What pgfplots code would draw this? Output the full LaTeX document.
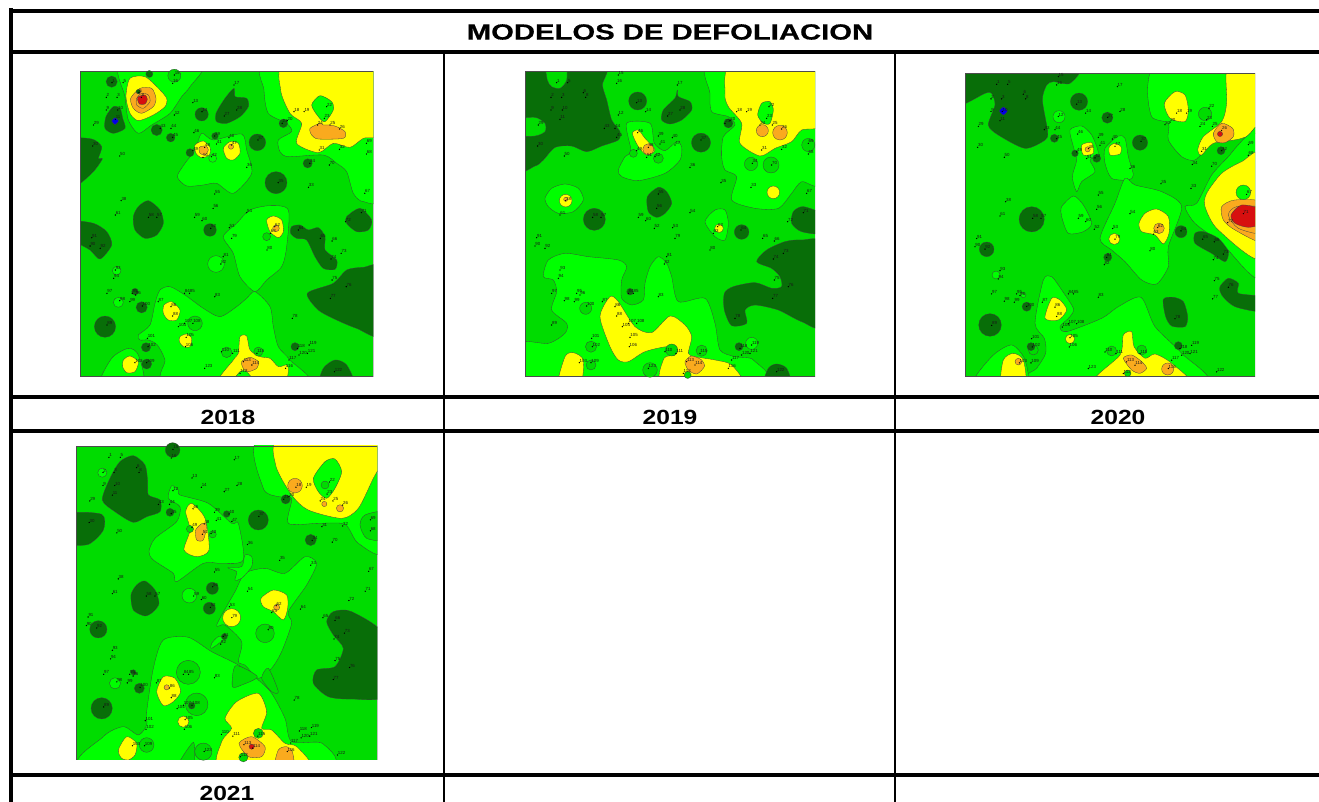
\documentclass[border=0pt]{standalone}
\usepackage{pgfplots}
\usepackage{pgfplotstable}
\usepackage{fontspec}
\setmainfont{Liberation Sans}
\newfontfamily\hv[FakeBold=0.5]{Liberation Sans Bold}
\pgfplotsset{compat=1.18}
\definecolor{br}{RGB}{0,255,0}
\definecolor{md}{RGB}{0,220,0}
\definecolor{dk}{RGB}{8,110,8}
\definecolor{ye}{RGB}{255,255,0}
\definecolor{og}{RGB}{250,170,30}
\definecolor{rd}{RGB}{215,15,15}
\definecolor{bl}{RGB}{0,0,230}
\newcommand{\Pl}[2]{\addplot[fill=#1,draw=black!75,line width=.3pt,line join=round,smooth cycle,tension=0.45] coordinates {#2};}
\newcommand{\Rc}[1]{\addplot[fill=md,draw=none] coordinates {#1} --cycle;}
\newcommand{\Fr}[1]{\addplot[draw=black!70,line width=.8pt] coordinates {#1} --cycle;}
\newcommand{\B}[3]{\addplot[only marks,mark=*,mark size=#2pt,mark options={fill=#1,draw=black!75,line width=.3pt}] coordinates {#3};}
\newcommand{\Pts}[4]{\addplot[only marks,mark=*,mark size=.4pt,black,point meta=explicit symbolic,clip=false,
  nodes near coords,nodes near coords style={font=\fontsize{4.4}{5}\selectfont,text=black!90,anchor=south west,inner sep=.2pt}]
  table[x expr={#2+(\thisrow{x}-30)*#1},y expr={#4+(\thisrow{y}-35)*#3},meta=id] {\ptstab};}
\pgfplotstableread{
x y id
125 68 1
158 68 5
108 112 2
140 112 3
205 98 6
212 112 8
108 150 9
142 150 10
135 178 11
310 165 12
365 128 13
392 155 14
310 45 15
305 70 16
487 75 17
665 155 18
695 155 19
645 182 20
630 190 21
762 140 22
755 175 23
735 195 24
772 195 25
800 207 26
458 168 27
495 150 28
70 195 29
68 258 30
740 270 31
800 268 32
708 382 33
712 310 34
618 368 35
525 322 36
558 240 37
152 422 38
430 228 39
472 233 40
435 252 41
420 290 42
268 205 43
300 205 44
305 232 45
368 218 46
480 255 47
400 262 48
365 272 49
148 288 50
395 292 51
418 505 52
473 503 53
525 458 54
430 402 55
425 445 56
258 472 57
233 472 58
370 472 59
392 482 60
135 465 61
608 500 62
595 520 63
678 510 64
743 535 65
778 543 66
875 400 67
880 282 68
880 250 69
770 315 70
865 458 71
818 485 72
805 580 73
775 597 74
778 660 75
820 680 76
773 715 77
660 775 78
480 535 79
585 570 80
455 590 81
448 612 82
430 710 83
340 700 84
355 700 85
300 740 86
262 725 87
305 768 88
110 795 89
60 558 90
65 533 91
90 565 92
135 630 93
130 655 94
185 700 95
195 705 96
110 700 97
148 722 98
178 725 99
215 738 100
230 835 101
232 860 102
193 908 103
322 800 104
345 832 105
343 860 106
340 790 107
365 790 108
228 908 109
450 875 110
483 880 111
505 940 112
515 905 113
540 915 114
555 880 115
640 925 116
650 900 117
675 865 118
710 855 119
680 885 120
705 880 121
785 935 122
400 925 123
}\ptstab
\pgfplotsset{panel/.style={anchor=north west,hide axis,x=0.33333pt,y=0.33333pt,y dir=reverse}}
\begin{document}
\begin{tikzpicture}
\path[use as bounding box] (0,0) rectangle (1319pt,802pt);
%% table frame
\begin{axis}[at={(0pt,0pt)},anchor=south west,hide axis,x=1pt,y=1pt,y dir=reverse,xmin=0,xmax=1319,ymin=0,ymax=802]
\addplot[black,line width=4pt] coordinates {(9,11)(1319,11)};
\addplot[black,line width=4pt] coordinates {(9,52)(1319,52)};
\addplot[black,line width=4pt] coordinates {(9,397)(1319,397)};
\addplot[black,line width=4pt] coordinates {(9,431)(1319,431)};
\addplot[black,line width=4pt] coordinates {(9,775)(1319,775)};
\addplot[black,line width=4pt] coordinates {(11,8)(11,802)};
\addplot[black,line width=2pt] coordinates {(444,52)(444,802)};
\addplot[black,line width=2pt] coordinates {(895,52)(895,802)};
\node[font=\fontsize{22}{24}\selectfont\hv] at (axis cs:670,32) {\scalebox{1.33}[1]{MODELOS DE DEFOLIACION}};
\node[font=\fontsize{20.5}{24}\selectfont\bfseries] at (axis cs:228,417) {\scalebox{1.2}[1]{2018}};
\node[font=\fontsize{20.5}{24}\selectfont\bfseries] at (axis cs:670,417) {\scalebox{1.2}[1]{2019}};
\node[font=\fontsize{20.5}{24}\selectfont\bfseries] at (axis cs:1118,417) {\scalebox{1.2}[1]{2020}};
\node[font=\fontsize{20.5}{24}\selectfont\bfseries] at (axis cs:227,793) {\scalebox{1.2}[1]{2021}};
\end{axis}

%% 2018
\begin{axis}[panel,at={(80pt,730.33pt)},xmin=30,xmax=910,ymin=35,ymax=950]
\Rc{(30,35)(910,35)(910,950)(30,950)}
\Pl{br}{(153,10)(165,110)(175,180)(205,220)(245,195)(300,160)(335,110)(360,80)(395,10)}
\Pl{br}{(590,10)(582,90)(595,160)(650,190)(665,215)(625,240)(630,275)(655,290)(760,285)(800,310)(830,335)(850,400)(880,425)(935,400)(935,10)}
\Pl{br}{(395,220)(430,240)(515,222)(530,270)(545,340)(490,400)(440,370)(400,375)(350,378)(322,350)(345,310)(375,270)}
\Pl{br}{(460,530)(500,490)(540,450)(600,437)(655,450)(650,560)(635,620)(590,660)(555,695)(510,650)(490,580)}
\Pl{br}{(205,825)(240,795)(255,730)(270,690)(300,680)(345,705)(400,745)(450,770)(500,740)(530,715)(555,695)(600,740)(610,800)(625,860)(660,900)(710,975)(295,975)(285,900)(262,855)(235,840)(210,840)}
\Pl{br}{(92,975)(125,895)(175,865)(205,885)(218,975)}
\B{br}{8.3}{(438,612)}
\B{br}{4.3}{(140,632)}
\B{br}{5}{(145,727)}
\B{md}{6.5}{(313,47)}
\B{md}{4}{(590,530)}
\B{md}{7.3}{(375,790)}
\B{md}{5.3}{(470,877)}
\B{md}{4.6}{(565,875)}
\Pl{dk}{(130,140)(150,145)(158,175)(165,205)(130,220)(105,205)(108,170)}
\Pl{dk}{(492,85)(495,110)(530,115)(535,140)(510,170)(470,190)(440,185)(438,160)(465,115)}
\Pl{dk}{(5,245)(65,237)(95,260)(85,295)(97,297)(65,340)(5,380)}
\Pl{dk}{(235,422)(270,450)(280,490)(260,525)(225,535)(195,510)(190,470)(205,440)}
\Pl{dk}{(5,485)(70,490)(110,515)(125,555)(90,597)(60,570)(5,535)}
\Pl{dk}{(665,500)(690,495)(715,510)(745,503)(765,530)(765,570)(800,600)(795,628)(760,625)(735,590)(710,540)(680,535)(662,520)}
\Pl{dk}{(830,470)(870,445)(905,480)(895,510)(860,515)(830,490)}
\Pl{dk}{(712,700)(790,670)(830,630)(880,622)(935,625)(935,825)(860,805)(800,780)(745,750)}
\Pl{dk}{(752,975)(760,925)(795,900)(830,915)(850,975)}
\B{dk}{5.6}{(125,65)}
\B{dk}{6.6}{(395,163)}
\B{dk}{5.6}{(260,210)}
\B{dk}{4.3}{(302,233)}
\B{dk}{3.3}{(435,228)}
\B{dk}{8.3}{(562,247)}
\B{dk}{4}{(360,278)}
\B{dk}{4.3}{(640,190)}
\B{dk}{4.6}{(713,310)}
\B{dk}{11}{(618,368)}
\B{dk}{6.3}{(420,510)}
\B{dk}{10.6}{(105,800)}
\B{dk}{5.6}{(215,742)}
\B{dk}{4.6}{(228,862)}
\B{dk}{5}{(230,912)}
\B{dk}{3.3}{(195,695)}
\B{dk}{4}{(675,860)}
\B{dk}{3.5}{(238,42)}
\Pl{ye}{(180,55)(225,50)(265,85)(290,115)(285,140)(250,165)(205,182)(180,160)(168,110)}
\Pl{og}{(182,115)(210,85)(245,85)(258,115)(250,140)(215,160)(190,145)}
\Pl{og}{(200,115)(215,100)(235,105)(240,125)(220,145)(200,135)}
\Pl{rd}{(203,112)(225,105)(232,118)(225,132)(208,132)}
\B{dk}{2.2}{(205,95)}
\Pl{ye}{(650,10)(632,90)(660,160)(695,190)(680,250)(745,278)(790,250)(840,262)(880,235)(935,215)(935,10)}
\Pl{br}{(725,135)(750,107)(785,125)(790,150)(765,185)(745,170)}
\Pl{og}{(720,205)(750,190)(760,195)(780,195)(800,200)(825,215)(820,235)(745,237)(725,225)}
\Pl{ye}{(375,255)(400,243)(420,262)(418,285)(395,293)(378,280)}
\Pl{og}{(388,262)(408,258)(415,270)(405,285)(390,280)}
\Pl{ye}{(460,265)(480,245)(505,250)(510,280)(490,300)(470,295)}
\B{og}{2.6}{(483,260)}
\B{br}{4}{(428,295)}
\Pl{ye}{(590,480)(610,468)(635,480)(640,515)(625,533)(600,515)}
\B{og}{3.3}{(618,505)}
\Pl{ye}{(160,900)(180,888)(205,905)(195,935)(170,938)(158,920)}
\Pl{ye}{(282,735)(305,725)(330,750)(320,780)(295,780)(280,760)}
\Pl{ye}{(330,830)(350,822)(365,835)(360,860)(340,860)(328,845)}
\Pl{ye}{(445,975)(490,900)(505,880)(510,830)(530,828)(540,870)(570,890)(600,895)(625,920)(650,915)(655,935)(630,975)}
\Pl{og}{(515,905)(540,892)(565,905)(560,925)(535,935)(520,925)}
\Pl{br}{(485,975)(510,935)(530,935)(555,975)}
\Pl{bl}{(125,183)(135,173)(146,183)(135,194)}
\Fr{(30,35)(910,35)(910,950)(30,950)}
\Pts{1.011}{30}{1}{35}
\end{axis}

%% 2019
\begin{axis}[panel,at={(525pt,730.33pt)},xmin=30,xmax=900,ymin=35,ymax=950]
\Rc{(30,35)(900,35)(900,950)(30,950)}
\Pl{dk}{(5,10)(265,10)(262,75)(275,120)(290,180)(315,215)(310,240)(260,258)(215,275)(170,258)(120,262)(85,300)(60,318)(5,318)}
\Pl{md}{(95,10)(150,10)(155,60)(135,85)(110,80)(97,60)}
\Pl{md}{(5,180)(60,172)(90,190)(90,215)(60,228)(5,225)}
\Pl{br}{(588,10)(585,100)(590,155)(640,170)(660,195)(625,230)(620,290)(630,330)(665,350)(650,420)(720,445)(790,445)(830,400)(860,365)(925,360)(925,10)}
\Pl{br}{(335,190)(405,190)(418,250)(450,272)(485,245)(500,260)(495,300)(450,340)(370,362)(320,350)(310,330)(330,290)(348,272)}
\Pl{br}{(90,415)(110,385)(150,372)(190,385)(205,420)(175,455)(130,460)(100,440)}
\Pl{br}{(570,485)(600,450)(630,450)(640,490)(630,540)(600,530)}
\Pl{br}{(85,650)(100,600)(150,580)(220,590)(310,600)(335,620)(320,660)(320,715)(350,735)(385,720)(390,670)(405,620)(430,590)(455,610)(470,650)(490,725)(570,715)(600,790)(615,870)(660,890)(715,900)(725,975)(5,975)(5,850)(100,850)(150,820)(155,790)(110,750)(125,695)(115,660)}
\B{md}{6.6}{(708,312)}
\B{md}{8}{(768,315)}
\B{md}{6.6}{(880,255)}
\B{md}{5}{(430,295)}
\B{md}{4}{(355,280)}
\B{md}{5.6}{(228,860)}
\B{md}{5}{(228,915)}
\B{md}{6}{(212,745)}
\B{md}{7.3}{(405,930)}
\B{md}{6}{(470,870)}
\B{md}{5.6}{(560,872)}
\B{br}{6}{(710,850)}
\B{md}{3.5}{(518,945)}
\Pl{dk}{(487,90)(490,110)(525,125)(530,150)(500,180)(465,192)(440,180)(445,150)(480,115)}
\Pl{dk}{(430,382)(455,395)(470,430)(450,460)(425,472)(400,455)(397,410)}
\Pl{dk}{(865,440)(925,465)(925,520)(860,515)(830,490)(835,455)}
\Pl{dk}{(725,605)(755,570)(810,545)(860,540)(925,555)(925,795)(860,785)(790,750)(720,735)(690,750)(695,790)(650,797)(628,750)(628,700)(655,680)(720,668)(770,685)(800,680)(795,650)(770,625)}
\Pl{dk}{(748,975)(760,925)(785,912)(815,925)(826,975)}
\B{dk}{9}{(368,123)}
\B{dk}{9.5}{(558,248)}
\B{dk}{11}{(238,478)}
\B{dk}{7.3}{(680,516)}
\B{dk}{4.6}{(640,190)}
\B{dk}{4}{(672,860)}
\B{dk}{3.3}{(345,695)}
\Pl{ye}{(655,10)(630,100)(640,140)(680,190)(675,250)(735,288)(780,265)(830,245)(860,210)(925,190)(925,10)}
\Pl{br}{(728,165)(740,130)(765,125)(775,150)(765,190)(745,190)}
\B{og}{6}{(742,212)}
\B{og}{7.3}{(795,218)}
\B{ye}{6.3}{(775,397)}
\Pl{ye}{(352,220)(370,210)(390,235)(420,270)(395,285)(370,260)}
\B{og}{5.6}{(400,268)}
\B{ye}{6.3}{(152,422)}
\B{og}{2}{(152,418)}
\B{ye}{4.3}{(612,505)}
\Pl{ye}{(285,710)(310,725)(360,800)(410,818)(465,768)(510,795)(530,830)(520,880)(540,890)(600,900)(650,915)(675,975)(445,975)(447,895)(480,885)(460,860)(390,875)(340,905)(310,900)(285,860)(255,770)}
\Pl{ye}{(130,975)(150,890)(175,878)(205,900)(195,975)}
\Pl{og}{(510,905)(530,888)(560,900)(568,920)(545,942)(520,930)}
\Fr{(30,35)(900,35)(900,950)(30,950)}
\Pts{1}{30}{1}{35}
\end{axis}

%% 2020
\begin{axis}[panel,at={(965pt,728.67pt)},xmin=30,xmax=900,ymin=40,ymax=950]
\Rc{(30,40)(900,40)(900,950)(30,950)}
\Pl{dk}{(5,15)(360,15)(345,70)(295,65)(275,75)(262,120)(278,215)(270,240)(210,265)(130,225)(100,195)(120,135)(110,100)(90,100)(5,135)}
\Pl{br}{(610,15)(578,80)(590,170)(640,190)(640,240)(680,290)(720,300)(760,255)(735,250)(760,220)(815,180)(820,15)}
\Pl{ye}{(820,15)(925,15)(925,195)(860,235)(775,250)(740,285)(728,270)(745,230)(800,185)(815,130)}
\Pl{br}{(925,215)(880,225)(845,260)(820,290)(770,345)(725,430)(690,440)(720,490)(800,550)(925,650)}
\Pl{ye}{(925,285)(860,305)(800,340)(755,400)(750,440)(790,510)(925,595)}
\Pl{og}{(800,440)(840,420)(925,430)(925,545)(840,510)(805,480)}
\Pl{og}{(820,465)(845,440)(925,445)(925,520)(850,505)}
\Pl{rd}{(828,465)(860,435)(925,450)(925,490)(880,502)(840,490)}
\B{br}{7.3}{(865,397)}
\B{md}{6.6}{(750,162)}
\Pl{og}{(775,220)(800,190)(833,205)(835,230)(810,248)(785,245)}
\B{rd}{2.6}{(795,222)}
\B{dk}{4}{(798,272)}
\Pl{ye}{(628,130)(660,95)(690,105)(700,150)(690,185)(645,175)}
\Pl{br}{(345,210)(380,198)(410,225)(430,280)(405,300)(420,335)(380,365)(365,395)(352,350)(365,300)(355,260)}
\Pl{ye}{(380,255)(410,248)(415,280)(385,285)}
\B{og}{2.6}{(398,268)}
\Pl{br}{(450,265)(490,228)(510,235)(520,290)(535,345)(520,360)(470,355)(450,310)}
\Pl{ye}{(463,260)(480,250)(498,260)(495,282)(465,285)}
\Pl{br}{(320,440)(355,408)(385,435)(410,490)(385,515)(340,520)(320,470)}
\Pl{br}{(435,535)(480,430)(510,355)(540,375)(620,395)(680,440)(640,560)(640,620)(605,672)(560,660)(510,605)(470,570)}
\Pl{ye}{(552,490)(570,460)(605,447)(640,470)(642,520)(625,552)(600,525)(560,515)}
\B{og}{5.3}{(612,505)}
\B{ye}{5.6}{(478,537)}
\Pl{br}{(240,790)(265,660)(290,650)(320,690)(355,745)(345,770)(315,800)(335,815)(440,775)(490,740)(558,712)(600,800)(680,880)(745,975)(205,975)(245,925)(272,880)(268,835)}
\Pl{br}{(55,975)(110,890)(170,855)(210,900)(210,975)}
\Pl{ye}{(140,975)(145,900)(175,880)(205,900)(210,975)}
\B{og}{3.3}{(190,905)}
\Pl{ye}{(270,775)(290,715)(315,720)(335,750)(310,780)}
\B{ye}{4.6}{(345,837)}
\Pl{ye}{(415,975)(495,885)(505,825)(530,815)(537,860)(570,895)(600,882)(650,910)(700,975)}
\Pl{og}{(505,895)(530,885)(560,905)(575,925)(555,940)(530,930)}
\B{og}{6}{(638,927)}
\B{md}{5}{(470,873)}
\B{md}{5}{(560,870)}
\B{md}{3.3}{(518,940)}
\B{md}{5}{(235,870)}
\B{br}{4}{(123,645)}
\B{br}{2.6}{(205,705)}
\B{br}{6}{(312,170)}
\Pl{dk}{(625,718)(655,712)(685,725)(698,770)(690,800)(650,798)(632,770)}
\Pl{dk}{(720,520)(745,515)(790,535)(820,575)(810,605)(770,580)(720,550)}
\Pl{dk}{(795,680)(820,655)(850,670)(850,700)(925,712)(925,755)(840,740)(800,705)}
\B{dk}{8.6}{(372,125)}
\B{dk}{5.6}{(457,173)}
\B{dk}{7.6}{(555,248)}
\B{dk}{4}{(298,235)}
\B{dk}{3.3}{(360,280)}
\B{dk}{4}{(425,295)}
\B{dk}{12.6}{(230,478)}
\B{dk}{7.3}{(95,568)}
\B{dk}{11.3}{(105,795)}
\B{dk}{4.6}{(215,740)}
\B{dk}{4}{(228,860)}
\B{dk}{6}{(678,515)}
\B{dk}{4}{(458,592)}
\B{dk}{4}{(670,857)}
\Pl{bl}{(133,153)(145,141)(157,153)(145,165)}
\Fr{(30,40)(900,40)(900,950)(30,950)}
\Pts{1}{30}{0.995}{40}
\end{axis}

%% 2021
\begin{axis}[panel,at={(76pt,356pt)},xmin=33,xmax=937,ymin=33,ymax=975]
\Rc{(33,33)(937,33)(937,975)(33,975)}
\Pl{br}{(585,8)(595,160)(640,185)(680,190)(670,265)(760,265)(840,268)(880,325)(962,345)(962,8)}
\Pl{br}{(252,350)(270,310)(335,260)(345,215)(310,190)(320,152)(340,165)(345,180)(430,205)(500,265)(520,265)(535,375)(470,385)(415,385)(335,440)(325,415)(265,375)}
\Pl{br}{(455,570)(510,470)(540,415)(600,400)(660,415)(720,365)(755,385)(725,450)(670,530)(680,565)(650,650)(620,700)(580,730)(540,690)(520,680)(530,620)(480,570)}
\Pl{br}{(488,398)(530,395)(540,360)(560,365)(560,395)(530,430)(510,435)(515,410)}
\Pl{br}{(440,625)(460,605)(480,610)(440,640)}
\Pl{br}{(65,1000)(115,905)(175,875)(220,900)(245,870)(245,830)(265,700)(295,615)(370,607)(440,650)(520,690)(580,735)(620,775)(660,850)(680,920)(772,925)(772,1000)}
\Pl{md}{(502,755)(512,692)(577,725)(530,750)}
\Pl{md}{(590,730)(610,700)(640,770)(620,770)}
\Pl{md}{(335,1000)(385,922)(385,1000)}
\Pl{md}{(962,232)(900,240)(885,270)(905,310)(962,312)}
\B{md}{7.3}{(245,930)}
\B{md}{12}{(370,712)}
\B{md}{11.3}{(395,808)}
\B{md}{8.6}{(415,950)}
\B{md}{4.6}{(535,967)}
\B{md}{9.3}{(600,595)}
\B{md}{3.6}{(375,282)}
\B{md}{3.6}{(443,298)}
\Pl{ye}{(650,8)(632,90)(680,180)(730,225)(830,250)(880,220)(925,130)(962,60)(962,8)}
\Pl{br}{(745,130)(780,80)(810,72)(830,110)(810,160)(785,190)(760,170)}
\B{md}{4}{(780,150)}
\B{og}{7.3}{(690,152)}
\B{og}{2.6}{(778,207)}
\B{og}{3.6}{(825,220)}
\Pl{ye}{(380,205)(420,250)(432,345)(395,365)(357,345)(375,285)(362,230)}
\Pl{og}{(392,285)(412,265)(425,270)(415,315)(395,315)}
\Pl{ye}{(588,490)(625,465)(665,480)(668,520)(655,555)(625,530)(595,515)}
\B{og}{3}{(635,517)}
\B{ye}{9}{(500,548)}
\Pl{ye}{(480,850)(515,800)(580,775)(605,830)(590,880)(620,885)(660,925)(695,935)(730,1000)(468,1000)(470,920)(500,880)}
\B{md}{5}{(580,895)}
\Pl{og}{(522,925)(560,905)(600,935)(590,965)(550,965)}
\B{rd}{2.6}{(560,935)}
\Pl{og}{(630,1000)(640,945)(665,935)(682,950)(685,1000)}
\Pl{ye}{(160,945)(185,905)(215,925)(210,960)(190,975)(170,970)}
\Pl{ye}{(275,770)(295,725)(330,730)(347,770)(325,800)(295,812)}
\B{og}{2.6}{(305,757)}
\B{ye}{5.6}{(355,860)}
\B{br}{4.6}{(112,113)}
\B{br}{5.6}{(150,745)}
\B{br}{7.3}{(373,482)}
\Pl{dk}{(112,195)(135,130)(165,80)(205,62)(240,90)(248,140)(250,180)(285,195)(285,230)(245,245)(205,262)(150,230)}
\Pl{dk}{(8,238)(110,238)(115,285)(70,328)(8,322)}
\Pl{dk}{(785,560)(805,530)(860,530)(962,605)(962,780)(860,792)(790,785)(745,745)(755,705)(810,695)(835,640)(805,600)}
\Pl{dk}{(240,438)(270,465)(282,505)(265,530)(240,543)(205,525)(198,480)(215,450)}
\B{dk}{10}{(580,255)}
\B{dk}{8.6}{(100,583)}
\B{dk}{10.6}{(110,820)}
\B{dk}{5.6}{(737,315)}
\B{dk}{4.6}{(662,193)}
\B{dk}{7.3}{(323,45)}
\B{dk}{6}{(442,460)}
\B{dk}{6}{(433,520)}
\B{dk}{4}{(315,232)}
\B{dk}{3.3}{(485,237)}
\B{dk}{5}{(223,760)}
\B{dk}{2.6}{(205,712)}
\B{dk}{3.3}{(380,812)}
\B{dk}{3}{(478,605)}
\Fr{(33,33)(937,33)(937,975)(33,975)}
\Pts{1.039}{33}{1.03}{33}
\end{axis}
\end{tikzpicture}
\end{document}
